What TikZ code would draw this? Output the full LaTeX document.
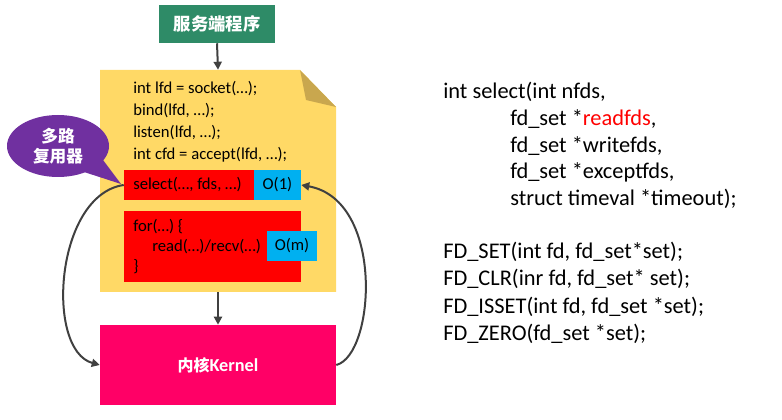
\documentclass[tikz,border=0pt]{standalone}
\usepackage{fontspec}
\setmainfont{Carlito}
\newfontfamily\cjk{Noto Sans CJK SC}
\usetikzlibrary{arrows.meta,shapes.geometric}
\definecolor{progGreen}{HTML}{2E8B67}
\definecolor{noteYellow}{HTML}{FFD966}
\definecolor{noteFold}{HTML}{C9A74E}
\definecolor{costBlue}{HTML}{00B0F0}
\definecolor{kernPink}{HTML}{FF0066}
\definecolor{muxPurple}{HTML}{7030A0}
\definecolor{arrowGray}{HTML}{404040}
\tikzset{
  codeline/.style={anchor=base west, inner sep=0pt, font=\fontsize{12.5}{14}\selectfont},
  sigline/.style={anchor=base west, inner sep=0pt, font=\fontsize{16.8}{20}\selectfont},
  callbox/.style={fill=red, inner sep=0pt, minimum height=22.5pt},
  costbox/.style={fill=costBlue, inner sep=0pt, minimum width=35.25pt, minimum height=22.5pt, font=\fontsize{12.5}{14}\selectfont},
  flow/.style={draw=arrowGray, line width=1.5pt, -{Triangle[length=6pt,width=6pt]}},
}
\begin{document}
\begin{tikzpicture}[x=0.75pt, y=-0.75pt]
\useasboundingbox (0,0) rectangle (782,420);

\node[fill=progGreen, text=white, minimum width=87pt, minimum height=28.5pt, font=\fontsize{13}{15}\selectfont\cjk\bfseries] (server) at (217,24) {服务端程序};

% note with folded corner
\fill[noteYellow] (100,70) -- (300,70) -- (336,107) -- (336,292) -- (100,292) -- cycle;
\fill[noteFold] (300,70) -- (336,107) -- (306,100) -- cycle;
\node[minimum width=177pt, minimum height=166.5pt, inner sep=0pt] (note) at (218,181) {};
\foreach \y/\t [count=\i] in {94/{int lfd = socket(…);},116/{bind(lfd, …);},138/{listen(lfd, …);},160/{int cfd = accept(lfd, …);}}
  \node[codeline] (setup\i) at (133,\y) {\t};

\node[callbox, minimum width=97.5pt] (sel) at (189,185) {};
\node[costbox] (o1) at (277.5,185) {O(1)};
\node[codeline] (seltext) at (133,190) {select(…, fds, …)};

\node[callbox, minimum width=132.75pt, minimum height=53.25pt] (loop) at (212.5,246.5) {};
\node[costbox, minimum width=37.5pt] (om) at (292,246) {O(m)};
\node[codeline] (for1) at (133,232) {for(…) \{};
\node[codeline] (for2) at (152,252) {read(…)/recv(…)};
\node[codeline] (for3) at (133,272) {\}};

\node[fill=kernPink, text=white, minimum width=177pt, minimum height=60pt, font=\fontsize{13.7}{15}\selectfont\bfseries] (kernel) at (218,365) {{\cjk\fontsize{12}{15}\selectfont 内核}Kernel};

% speech bubble
\fill[muxPurple] (84,172) -- (121,184) -- (100,156) -- cycle;
\node[ellipse, fill=muxPurple, text=white, minimum width=76.5pt, minimum height=46.5pt, inner sep=0pt, align=center, font=\fontsize{12.5}{15}\selectfont\cjk\bfseries] (mux) at (58,146) {多路\\复用器};

\draw[flow] (server.south) -- (note.north);
\draw[flow] (note.south) -- (kernel.north);
\draw[flow] (sel.west) .. controls (55,195) and (45,350) .. (kernel.west);
\draw[flow] (kernel.east) .. controls (375,355) and (385,200) .. (o1.east);

\foreach \y/\x/\t [count=\i] in {99/443/{int select(int nfds,},126/510/{fd\_set *\textcolor{red}{readfds},},153/510/{fd\_set *writefds,},179/510/{fd\_set *exceptfds,},206/510/{struct timeval *timeout);},259/443/{FD\_SET(int fd, fd\_set*set);},286/443/{FD\_CLR(inr fd, fd\_set* set);},314/443/{FD\_ISSET(int fd, fd\_set *set);},341/443/{FD\_ZERO(fd\_set *set);}}
  \node[sigline] (sig\i) at (\x,\y) {\t};
\end{tikzpicture}
\end{document}
